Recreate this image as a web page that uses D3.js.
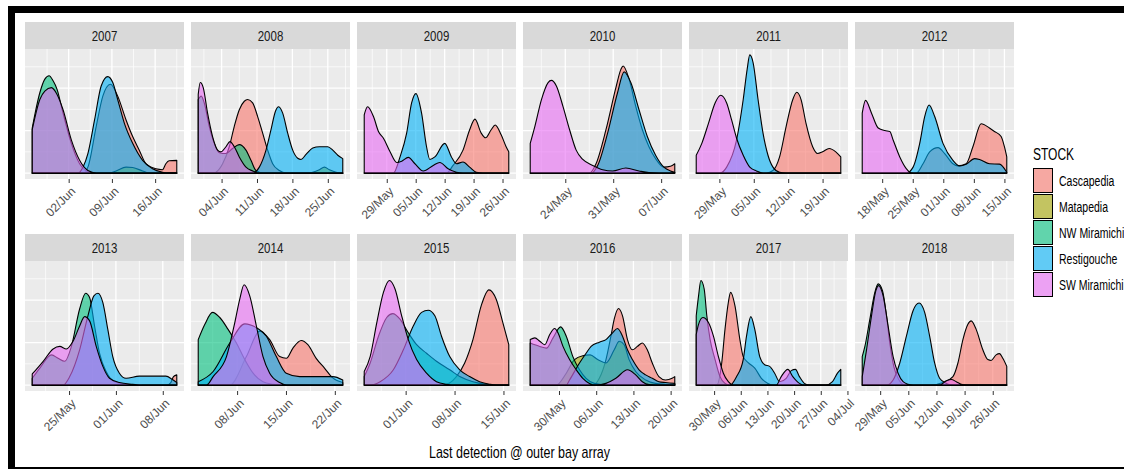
<!DOCTYPE html>
<html>
<head>
<meta charset="utf-8">
<script src="https://cdn.jsdelivr.net/npm/d3@7"></script>
<style>
  html, body { margin: 0; padding: 0; background: #fff; }
  svg { display: block; font-family: "Liberation Sans", Arial, sans-serif; }
</style>
</head>
<body>
<svg id="chart" width="1124" height="470"></svg>
<script>
// Stocks in legend / drawing order, with the default hue palette.
const stocks = ["Cascapedia", "Matapedia", "NW Miramichi", "Restigouche", "SW Miramichi"];
const stockColors = ["#F8766D", "#A3A500", "#00BF7D", "#00B0F6", "#E76BF3"];
const years = [2007, 2008, 2009, 2010, 2011, 2012, 2013, 2014, 2015, 2016, 2017, 2018];

// Date breaks shown under each panel.
const tickLabels = [
  ["02/Jun", "09/Jun", "16/Jun"],
  ["04/Jun", "11/Jun", "18/Jun", "25/Jun"],
  ["29/May", "05/Jun", "12/Jun", "19/Jun", "26/Jun"],
  ["24/May", "31/May", "07/Jun"],
  ["29/May", "05/Jun", "12/Jun", "19/Jun"],
  ["18/May", "25/May", "01/Jun", "08/Jun", "15/Jun"],
  ["25/May", "01/Jun", "08/Jun"],
  ["08/Jun", "15/Jun", "22/Jun"],
  ["01/Jun", "08/Jun", "15/Jun"],
  ["30/May", "06/Jun", "13/Jun", "20/Jun"],
  ["30/May", "06/Jun", "13/Jun", "20/Jun", "27/Jun", "04/Jul"],
  ["29/May", "05/Jun", "12/Jun", "19/Jun", "26/Jun"]
];

// Density of last detections: [day counted from 30 April, density].
const density2007 = {
  "Cascapedia": [[27.1,0],[35.31,0],[36.11,.014],[37.46,.110],[38.53,.181],[39.76,.209],[40.94,.181],[42.29,.125],[43.36,.086],[44.43,.054],[45.51,.022],[47.12,.010],[48.19,.008],[48.73,.022],[49.26,.029],[50.5,.030]],
  "Matapedia": [[27.1,0],[39.5,0],[40.68,.005],[42.29,.014],[43.36,.013],[44.97,.005],[46.04,0],[50.5,0]],
  "NW Miramichi": [[27.1,.106],[28.33,.189],[29.14,.221],[29.83,.229],[30.48,.217],[31.12,.197],[32.09,.141],[33.43,.070],[34.77,.022],[35.84,.005],[36.92,0],[50.5,0]],
  "Restigouche": [[27.1,0],[34.5,0],[35.31,.014],[36.11,.046],[37.19,.125],[38.26,.205],[39.33,.227],[40.14,.213],[40.94,.173],[42.02,.117],[43.36,.070],[44.97,.030],[46.58,.010],[48.19,.002],[49.26,0],[50.5,0]],
  "SW Miramichi": [[27.1,.102],[28.33,.173],[29.14,.193],[30.21,.201],[31.12,.185],[32.09,.149],[33.43,.078],[34.77,.030],[36.11,.006],[37.46,0],[50.5,0]]
};
const density2008 = {
  "Cascapedia": [[30.38,0],[33.5,0],[33.88,.002],[35.20,.022],[36.52,.062],[37.51,.110],[38.50,.149],[39.49,.169],[40.15,.173],[41.14,.165],[42.13,.133],[43.12,.094],[44.11,.054],[45.10,.022],[46.42,.006],[47.74,0],[58.96,0]],
  "Matapedia": [[30.38,0],[52.0,0],[54.34,.008],[55.33,.014],[56.32,.008],[57.64,.002],[58.96,0]],
  "NW Miramichi": [[30.38,.173],[30.97,.181],[31.57,.165],[32.56,.110],[33.55,.070],[34.54,.048],[35.86,.046],[37.18,.058],[38.50,.067],[39.82,.054],[40.81,.030],[41.80,.006],[43.12,0],[58.96,0]],
  "Restigouche": [[30.38,0],[41.14,0],[42.46,.014],[43.78,.054],[44.77,.102],[45.63,.145],[46.29,.156],[47.08,.141],[48.07,.094],[49.06,.054],[50.05,.035],[50.71,.032],[51.70,.044],[53.02,.059],[54.34,.062],[55.99,.062],[56.98,.054],[57.97,.042],[58.96,.034]],
  "SW Miramichi": [[30.38,.185],[30.78,.213],[31.37,.201],[32.23,.141],[33.22,.086],[34.21,.054],[34.87,.050],[35.86,.062],[36.65,.074],[37.51,.062],[38.50,.038],[39.82,.014],[41.14,.005],[42.46,0],[58.96,0]]
};
const density2009 = {
  "Cascapedia": [[23.55,0],[43.43,0],[45.04,.018],[47.44,.054],[49.05,.102],[50.33,.127],[51.85,.094],[52.90,.083],[54.26,.102],[55.22,.113],[56.67,.090],[57.87,.062],[58.51,.050]],
  "Restigouche": [[23.55,0],[30.6,0],[32.21,.038],[33.81,.094],[35.01,.165],[36.06,.187],[37.42,.141],[38.62,.062],[39.42,.032],[40.63,.038],[43.03,.070],[44.64,.038],[45.84,.022],[47.44,.026],[49.05,.014],[50.65,.002],[52.25,0],[58.51,0]],
  "SW Miramichi": [[23.55,.137],[24.35,.156],[25.79,.133],[26.99,.098],[28.20,.082],[29.80,.050],[31.41,.025],[32.61,.028],[34.21,.037],[35.82,.022],[37.82,.005],[40.23,.018],[41.83,.025],[43.84,.010],[45.84,.002],[47.44,0],[58.51,0]]
};
const density2010 = {
  "Cascapedia": [[18.88,0],[27.53,0],[28.49,.022],[29.94,.102],[31.39,.201],[32.12,.244],[32.45,.252],[33.32,.221],[34.29,.157],[35.26,.102],[36.22,.062],[37.19,.034],[38.40,.014],[39.36,.016],[39.99,.022]],
  "Restigouche": [[18.88,0],[27.77,0],[28.73,.018],[30.18,.094],[31.63,.189],[32.60,.238],[33.57,.213],[34.77,.149],[35.98,.086],[37.19,.042],[38.40,.014],[39.36,.005],[39.99,.002]],
  "SW Miramichi": [[18.88,.070],[19.56,.110],[20.52,.173],[21.49,.213],[21.97,.218],[22.70,.205],[23.66,.157],[24.63,.102],[25.59,.054],[26.56,.032],[28.01,.018],[29.46,.008],[30.91,.005],[32.84,.012],[34.77,.005],[36.22,.001],[37.67,0],[39.99,0]]
};
const density2011 = {
  "Cascapedia": [[24.29,0],[38.56,0],[39.90,.006],[41.25,.038],[42.59,.110],[43.94,.173],[44.75,.190],[45.62,.173],[46.63,.117],[47.98,.062],[48.99,.046],[50.00,.050],[51.34,.058],[52.69,.050],[53.70,.038]],
  "Restigouche": [[24.29,0],[29.13,0],[30.48,.014],[32.50,.078],[33.85,.173],[34.65,.244],[35.19,.278],[35.86,.260],[36.87,.173],[37.88,.094],[38.89,.042],[39.90,.014],[41.25,.002],[42.59,0],[53.70,0]],
  "SW Miramichi": [[24.29,.042],[25.43,.070],[26.78,.117],[28.13,.165],[29.27,.183],[30.48,.165],[31.49,.125],[32.50,.082],[33.85,.042],[35.19,.014],[36.54,.005],[37.88,0],[53.70,0]]
};
const density2012 = {
  "Cascapedia": [[13.43,0],[25.84,0],[27.36,.022],[28.88,.050],[30.79,.060],[32.31,.046],[34.21,.022],[35.35,.017],[37.25,.022],[38.78,.062],[40.68,.116],[42.58,.106],[43.72,.098],[45.25,.086],[46.0,.062],[46.54,.038]],
  "Restigouche": [[13.43,0],[23.56,0],[25.08,.014],[26.60,.070],[27.74,.133],[28.73,.160],[30.03,.133],[31.93,.070],[34.21,.030],[35.73,.017],[37.25,.021],[39.16,.034],[40.30,.032],[42.58,.022],[44.86,.021],[46.54,.002]],
  "SW Miramichi": [[13.43,.141],[14.19,.171],[15.56,.141],[17.09,.106],[18.61,.100],[19.75,.098],[20.51,.078],[22.03,.038],[23.56,.010],[24.32,.002],[25.08,0],[46.54,0]]
};
const density2013 = {
  "Cascapedia": [[19.50,0],[39.6,0],[40.2,.006],[40.6,.020],[41.09,.024]],
  "NW Miramichi": [[19.50,.016],[20.64,.040],[22.38,.071],[23.37,.063],[24.36,.056],[25.35,.091],[26.58,.179],[27.48,.216],[28.07,.206],[28.81,.139],[29.55,.075],[30.54,.032],[31.78,.008],[33.51,.002],[34.50,0],[41.09,0]],
  "Restigouche": [[19.50,0],[24.11,0],[25.10,.020],[26.58,.083],[27.82,.163],[28.71,.210],[29.31,.216],[30.05,.194],[30.79,.131],[31.53,.067],[32.52,.028],[33.51,.016],[35.50,.021],[37.48,.021],[39.46,.021],[40.45,.013],[41.09,.006]],
  "SW Miramichi": [[19.50,.026],[21.14,.056],[22.62,.085],[23.61,.091],[24.60,.085],[25.59,.103],[26.58,.139],[27.33,.161],[28.07,.151],[29.06,.091],[30.05,.044],[31.04,.016],[32.52,.006],[34.50,.002],[36.0,0],[41.09,0]]
};
const density2014 = {
  "Cascapedia": [[33.43,0],[37.95,0],[40.33,.067],[42.24,.127],[43.67,.107],[45.10,.067],[46.05,.063],[47.00,.087],[48.19,.105],[49.14,.095],[50.33,.063],[51.52,.040],[52.71,.017],[54.14,.006]],
  "NW Miramichi": [[33.43,.107],[34.38,.143],[35.48,.171],[36.52,.159],[37.71,.131],[38.90,.099],[40.10,.060],[41.29,.028],[42.71,.008],[44.14,.002],[45.10,0],[54.14,0]],
  "Restigouche": [[33.43,.008],[35.57,.032],[37.95,.099],[40.10,.144],[41.76,.135],[43.19,.115],[44.62,.067],[46.05,.028],[47.95,.020],[50.33,.020],[52.71,.020],[54.14,.012]],
  "SW Miramichi": [[33.43,0],[34.62,0],[35.57,.020],[37.48,.067],[38.67,.147],[39.38,.202],[40.00,.236],[40.81,.210],[41.76,.139],[42.71,.067],[43.67,.028],[45.10,.006],[46.05,0],[54.14,0]]
};
const density2015 = {
  "Cascapedia": [[26.07,0],[37.36,0],[39.26,.020],[40.45,.052],[41.63,.107],[42.82,.187],[43.91,.224],[44.96,.202],[45.91,.147],[46.76,.095]],
  "NW Miramichi": [[26.07,.020],[26.92,.052],[28.11,.115],[29.29,.159],[30.15,.168],[31.19,.155],[32.38,.123],[33.57,.095],[34.99,.075],[36.41,.056],[38.31,.036],[39.74,.020],[41.63,.008],[43.53,.002],[44.96,0],[46.76,0]],
  "Restigouche": [[26.07,0],[26.92,0],[28.35,.008],[30.24,.036],[31.67,.083],[33.09,.139],[34.28,.171],[35.23,.176],[36.18,.163],[37.13,.115],[38.31,.067],[39.74,.036],[41.16,.020],[42.58,.008],[44.01,.002],[44.96,0],[46.76,0]],
  "SW Miramichi": [[26.07,.032],[26.92,.067],[27.87,.147],[28.82,.218],[29.67,.246],[30.48,.226],[31.43,.163],[32.38,.107],[33.57,.060],[34.99,.028],[36.41,.008],[37.84,.002],[39.26,0],[46.76,0]]
};
const density2016 = {
  "Cascapedia": [[24.59,0],[36.35,0],[37.59,.016],[38.84,.060],[39.77,.115],[40.39,.155],[41.20,.180],[41.95,.163],[42.88,.107],[43.81,.083],[44.75,.091],[45.68,.099],[46.61,.083],[47.55,.052],[48.79,.020],[50.04,.012],[51.28,.016],[51.78,.020]],
  "Matapedia": [[24.59,0],[29.50,0],[31.37,.028],[32.92,.060],[34.48,.069],[35.85,.071],[37.28,.060],[38.84,.052],[40.39,.083],[41.33,.103],[42.26,.095],[43.19,.060],[44.43,.032],[46.30,.012],[48.17,.004],[50.04,.002],[51.78,.001]],
  "NW Miramichi": [[24.59,.099],[26.39,.091],[27.64,.087],[28.88,.111],[30.31,.137],[31.37,.115],[32.61,.067],[33.86,.036],[35.10,.016],[36.66,.004],[38.21,.001],[39.46,0],[51.78,0]],
  "Restigouche": [[24.59,0],[31.37,0],[31.99,.012],[33.86,.052],[35.10,.075],[36.04,.091],[37.59,.101],[38.84,.107],[40.08,.123],[41.01,.133],[41.95,.115],[42.88,.083],[43.81,.060],[45.06,.036],[46.30,.024],[47.55,.016],[48.79,.008],[50.04,.006],[51.78,.004]],
  "SW Miramichi": [[24.59,.107],[25.46,.111],[26.39,.103],[27.32,.095],[28.26,.119],[29.19,.133],[29.81,.123],[30.75,.091],[31.99,.060],[33.24,.036],[34.48,.016],[35.73,.004],[36.97,0],[38.84,.004],[40.70,.016],[42.88,.036],[44.43,.024],[45.68,.008],[46.93,.001],[48.17,0],[51.78,0]]
};
const density2017 = {
  "Cascapedia": [[25.31,0],[30.69,0],[32.00,.052],[32.86,.131],[33.73,.194],[34.34,.218],[35.47,.187],[36.77,.107],[37.64,.067],[38.94,.053],[40.68,.040],[42.41,.016],[44.15,.004],[45.45,0],[63.25,0]],
  "NW Miramichi": [[25.31,.163],[25.92,.210],[26.53,.246],[27.40,.226],[28.09,.163],[28.96,.107],[30.26,.060],[31.56,.020],[32.86,.004],[34.17,0],[63.25,0]],
  "Restigouche": [[25.31,0],[34.17,0],[35.90,.020],[37.64,.060],[38.51,.115],[39.64,.161],[40.68,.131],[41.98,.067],[43.28,.048],[44.58,.044],[45.89,.028],[47.19,.008],[48.92,.016],[50.23,.034],[51.35,.037],[52.40,.020],[53.70,.004],[55.00,0],[59.34,0],[61.08,.008],[62.38,.028],[63.25,.037]],
  "SW Miramichi": [[25.31,.119],[25.92,.143],[27.05,.159],[28.52,.147],[29.83,.115],[31.13,.067],[32.43,.028],[33.73,.008],[35.03,0],[46.32,0],[47.62,.020],[49.36,.037],[50.66,.020],[52.40,.004],[53.70,0],[63.25,0]]
};
const density2018 = {
  "Cascapedia": [[24.54,0],[41.31,0],[44.62,.006],[47.10,.020],[48.34,.052],[49.58,.107],[50.82,.143],[51.64,.151],[52.88,.131],[54.54,.083],[55.78,.060],[56.60,.058],[57.84,.071],[58.67,.074],[59.50,.063],[60.49,.044]],
  "NW Miramichi": [[24.54,.067],[25.20,.091],[26.44,.155],[27.68,.218],[28.50,.238],[29.58,.222],[30.57,.163],[31.40,.099],[32.39,.044],[33.46,.016],[34.70,.002],[35.94,0],[60.49,0]],
  "Restigouche": [[24.54,0],[30.57,0],[32.22,.012],[33.88,.052],[35.53,.115],[37.18,.175],[38.67,.193],[40.07,.171],[41.31,.115],[42.55,.052],[43.79,.016],[45.45,.004],[47.10,0],[60.49,0]],
  "SW Miramichi": [[24.54,.020],[25.61,.083],[26.85,.163],[27.93,.222],[28.59,.234],[29.74,.210],[30.98,.139],[32.22,.067],[33.46,.028],[34.70,.008],[35.94,.002],[37.18,0],[43.79,0],[45.45,.010],[46.69,.013],[47.93,.008],[49.17,.002],[50.4,0],[60.49,0]]
};

const densityByYear = [density2007, density2008, density2009, density2010, density2011, density2012,
                       density2013, density2014, density2015, density2016, density2017, density2018];

// ---------------------------------------------------------------------------
const svg = d3.select("#chart");
const layout = { left: 25, step: 166, width: 159, rowTops: [22, 234], strip: 27, height: 130 };
const fillOpacity = 0.6;

const color = d3.scaleOrdinal().domain(stocks).range(stockColors);

// Shared density axis (free x, fixed y), expanded by 5% on each side.
const vMax = d3.max(densityByYear.flatMap(o => Object.values(o).flatMap(s => s.map(p => p[1]))));
const yDomain = [-0.05 * vMax, 1.05 * vMax];

// Break labels are converted to the same day count as the data.
const parseTick = d3.utcParse("%d/%b");
const dayZero = new Date(Date.UTC(1900, 3, 30));
const tickDay = s => d3.utcDay.count(dayZero, parseTick(s));

// Frame around the figure.
svg.append("rect").attr("x", 8).attr("y", 6).attr("width", 7).attr("height", 463).attr("fill", "#000");
svg.append("rect").attr("x", 8).attr("y", 6).attr("width", 1116).attr("height", 7).attr("fill", "#000");
svg.append("rect").attr("x", 8).attr("y", 467).attr("width", 1116).attr("height", 2).attr("fill", "#000");

years.forEach((year, i) => {
  const col = i % 6, row = Math.floor(i / 6);
  const x0 = layout.left + col * layout.step;
  const top = layout.rowTops[row];
  const pTop = top + layout.strip, pBot = pTop + layout.height;
  const series = densityByYear[i];

  const ext = d3.extent(Object.values(series).flatMap(s => s.map(p => p[0])));
  const pad = (ext[1] - ext[0]) * 0.05;
  const x = d3.scaleLinear().domain([ext[0] - pad, ext[1] + pad]).range([x0, x0 + layout.width]);
  const y = d3.scaleLinear().domain(yDomain).range([pBot, pTop]);

  const g = svg.append("g").attr("class", "panel");

  // Strip with the year.
  g.append("rect").attr("x", x0).attr("y", top).attr("width", layout.width).attr("height", layout.strip)
    .attr("fill", "#D9D9D9");
  g.append("text")
    .attr("transform", `translate(${x0 + layout.width / 2},${top + layout.strip / 2 + 5}) scale(0.82,1)`)
    .attr("text-anchor", "middle").attr("font-size", 14).attr("fill", "#1A1A1A").text(year);

  // Panel background and grid.
  g.append("rect").attr("x", x0).attr("y", pTop).attr("width", layout.width).attr("height", layout.height)
    .attr("fill", "#EBEBEB");

  const ticks = tickLabels[i].map(tickDay);
  const [d0, d1] = x.domain();
  const minorX = [ticks[0] - 3.5, ...ticks.map(t => t + 3.5)].filter(t => t > d0 && t < d1);
  const majorY = [0, 0.1, 0.2].filter(v => v < yDomain[1]);
  const minorY = [0.05, 0.15, 0.25].filter(v => v < yDomain[1]);

  g.selectAll(null).data(minorX).join("line")
    .attr("x1", d => x(d)).attr("x2", d => x(d)).attr("y1", pTop).attr("y2", pBot)
    .attr("stroke", "#fff").attr("stroke-width", 0.7);
  g.selectAll(null).data(minorY).join("line")
    .attr("x1", x0).attr("x2", x0 + layout.width).attr("y1", d => y(d)).attr("y2", d => y(d))
    .attr("stroke", "#fff").attr("stroke-width", 0.7);
  g.selectAll(null).data(ticks).join("line")
    .attr("x1", d => x(d)).attr("x2", d => x(d)).attr("y1", pTop).attr("y2", pBot)
    .attr("stroke", "#fff").attr("stroke-width", 1.3);
  g.selectAll(null).data(majorY).join("line")
    .attr("x1", x0).attr("x2", x0 + layout.width).attr("y1", d => y(d)).attr("y2", d => y(d))
    .attr("stroke", "#fff").attr("stroke-width", 1.3);

  // Density areas, one per stock present in the year.
  const area = d3.area()
    .x(d => x(d[0])).y0(y(0)).y1(d => y(d[1]))
    .curve(d3.curveMonotoneX);
  stocks.forEach(s => {
    if (!series[s]) return;
    g.append("path").attr("d", area(series[s]))
      .attr("fill", color(s)).attr("fill-opacity", fillOpacity)
      .attr("stroke", "#000").attr("stroke-width", 1.1).attr("stroke-linejoin", "round");
  });

  // Date axis.
  const axis = d3.axisBottom(x).tickValues(ticks).tickSizeInner(4).tickSizeOuter(0).tickPadding(0)
    .tickFormat((d, j) => tickLabels[i][j]);
  const ax = g.append("g").attr("transform", `translate(0,${pBot})`).call(axis);
  ax.select(".domain").remove();
  ax.selectAll(".tick line").attr("stroke", "#333333").attr("stroke-width", 1);
  ax.selectAll(".tick text")
    .attr("x", null).attr("y", null).attr("dy", null)
    .attr("text-anchor", "end")
    .attr("font-size", 12).attr("font-family", "Liberation Sans, Arial, sans-serif")
    .attr("fill", "#4D4D4D")
    .attr("transform", "translate(7,13) rotate(-45)");
});

// Axis title.
svg.append("text")
  .attr("transform", `translate(${layout.left + (5 * layout.step + layout.width) / 2},458) scale(0.78,1)`)
  .attr("text-anchor", "middle").attr("font-size", 16).attr("fill", "#000")
  .text("Last detection @ outer bay array");

// Legend.
const legend = svg.append("g").attr("transform", "translate(1033,0)");
legend.append("text")
  .attr("transform", "translate(0,160) scale(0.75,1)")
  .attr("font-size", 16).attr("fill", "#000").text("STOCK");
stocks.forEach((s, k) => {
  const ky = 168 + k * 26;
  legend.append("rect").attr("x", 0).attr("y", ky).attr("width", 20).attr("height", 25).attr("fill", "#F2F2F2");
  legend.append("rect").attr("x", 0.5).attr("y", ky + 0.5).attr("width", 19).attr("height", 24)
    .attr("fill", color(s)).attr("fill-opacity", fillOpacity).attr("stroke", "#000").attr("stroke-width", 1);
  legend.append("text")
    .attr("transform", `translate(26,${ky + 17.5}) scale(0.75,1)`)
    .attr("font-size", 14).attr("fill", "#000").text(s);
});
</script>
</body>
</html>
